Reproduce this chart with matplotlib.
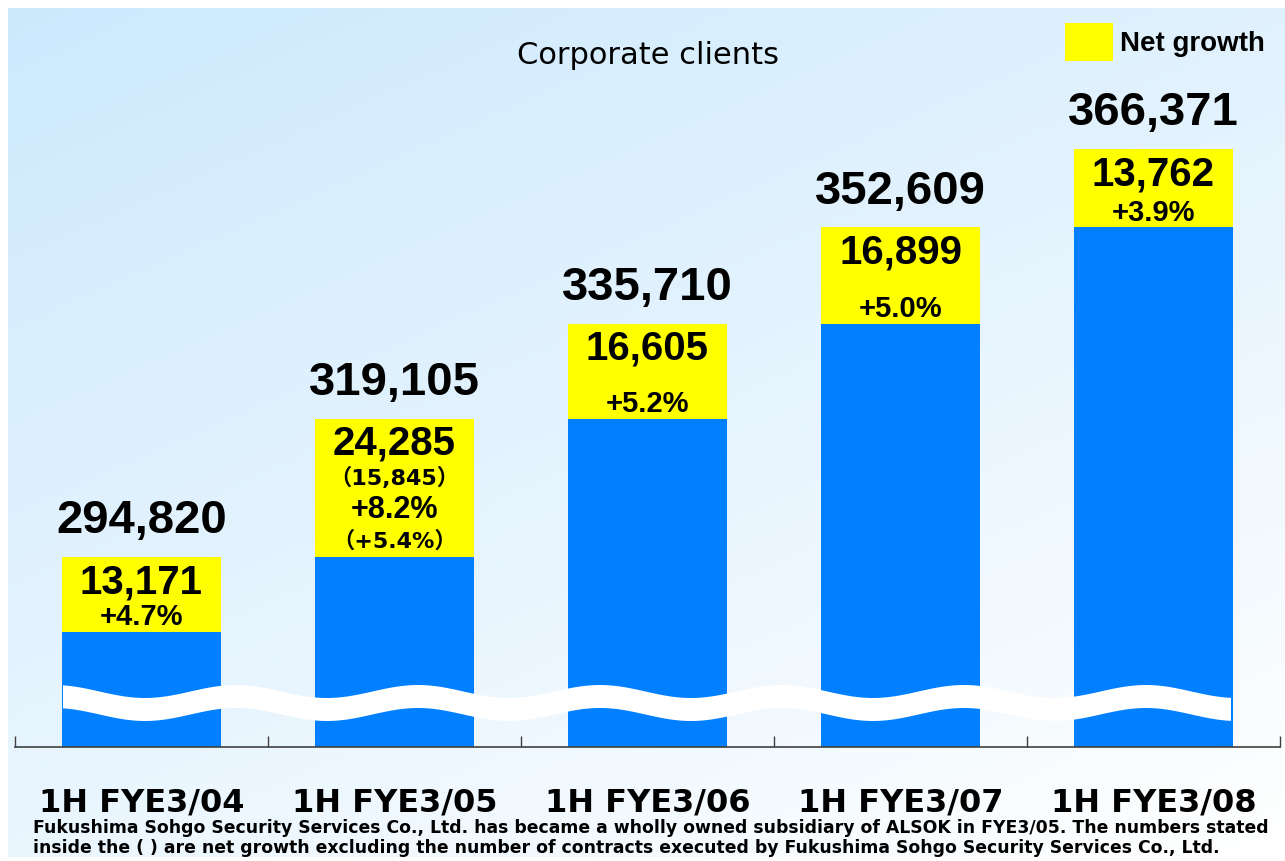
import numpy as np
import matplotlib
matplotlib.use('Agg')
import matplotlib.pyplot as plt
from matplotlib.patches import Patch, Polygon

# data
categories = ['1H FYE3/04', '1H FYE3/05', '1H FYE3/06', '1H FYE3/07', '1H FYE3/08']
totals = [294820, 319105, 335710, 352609, 366371]
net_growth = [13171, 24285, 16605, 16899, 13762]
growth_pct = [4.7, 8.2, 5.2, 5.0, 3.9]
# figures excluding Fukushima Sohgo (only for FYE3/05)
growth_excl = [None, 15845, None, None, None]
pct_excl = [None, 5.4, None, None, None]

previous = [t - g for t, g in zip(totals, net_growth)]

W, H = 1285, 861
BLUE = '#0080ff'
YELLOW = '#ffff00'
FONT = 'Liberation Sans'
WIDE = ['DejaVu Sans', 'Noto Sans CJK JP']

fig = plt.figure(figsize=(W / 100, H / 100), dpi=100)
fig.patch.set_facecolor('white')

# gradient background panel
bg = fig.add_axes([8 / W, (H - 857) / H, (W - 8) / W, (857 - 8) / H])
yy, xx = np.mgrid[0:1:200j, 0:1:300j]
t = 0.6 * yy + 0.4 * xx
c0 = np.array([0.80, 0.914, 0.992])
c1 = np.array([1.0, 1.0, 1.0])
grad = c0[None, None, :] * (1 - t[..., None]) + c1[None, None, :] * t[..., None]
bg.imshow(grad, aspect='auto', extent=[0, 1, 0, 1], origin='upper')
bg.axis('off')

# main axes (broken value axis, floor well above zero)
ax = fig.add_axes([15 / W, (H - 747) / H, 1265 / W, (747 - 8) / H])
ax.patch.set_alpha(0)
y_floor = 261500
ax.set_ylim(y_floor, 391100)
ax.set_xlim(-0.5, 4.5)

x = np.arange(len(categories))
ax.bar(x, [p - y_floor for p in previous], bottom=y_floor, width=0.63, color=BLUE, zorder=2)
ax.bar(x, net_growth, bottom=previous, width=0.63, color=YELLOW, zorder=2)

for i in range(len(categories)):
    ax.annotate(f'{totals[i]:,}', (x[i], totals[i]), xytext=(0, 17), textcoords='offset points',
                ha='center', va='baseline', fontsize=34, fontweight='bold', family=FONT)
    ax.annotate(f'{net_growth[i]:,}', (x[i], totals[i]), xytext=(0, -26), textcoords='offset points',
                ha='center', va='baseline', fontsize=29, fontweight='bold', family=FONT, zorder=3)
    if growth_excl[i] is None:
        ax.annotate(f'+{growth_pct[i]:.1f}%', (x[i], previous[i]), xytext=(0, 5),
                    textcoords='offset points', ha='center', va='baseline',
                    fontsize=21, fontweight='bold', family=FONT, zorder=3)
    else:
        ax.annotate(f'（{growth_excl[i]:,}）', (x[i], totals[i]), xytext=(0, -48),
                    textcoords='offset points', ha='center', va='baseline',
                    fontsize=16, fontweight='bold', family=WIDE, zorder=3)
        ax.annotate(f'+{growth_pct[i]:.1f}%', (x[i], previous[i]), xytext=(0, 28),
                    textcoords='offset points', ha='center', va='baseline',
                    fontsize=22, fontweight='bold', family=FONT, zorder=3)
        ax.annotate(f'（+{pct_excl[i]:.1f}%）', (x[i], previous[i]), xytext=(0, 6.5),
                    textcoords='offset points', ha='center', va='baseline',
                    fontsize=16, fontweight='bold', family=WIDE, zorder=3)

# wavy break mark across the bars (pixel space -> figure fraction)
px = np.linspace(63, 1231, 400)
top = 691.5 - 6.5 * np.cos(2 * np.pi * (px - 54) / 182)
bot = top + 23
verts = np.concatenate([np.column_stack([px, top]), np.column_stack([px[::-1], bot[::-1]])])
verts[:, 0] /= W
verts[:, 1] = 1 - verts[:, 1] / H
fig.patches.append(Polygon(verts, closed=True, facecolor='white', edgecolor='none',
                           transform=fig.transFigure, zorder=5))

# axes styling
for s in ['left', 'right', 'top']:
    ax.spines[s].set_visible(False)
ax.spines['bottom'].set_color('#404040')
ax.spines['bottom'].set_linewidth(1.2)
ax.set_yticks([])
ax.set_xticks(x)
ax.set_xticklabels(categories, fontsize=23, fontweight='bold', family='DejaVu Sans')
ax.tick_params(axis='x', which='major', length=0, pad=29)
ax.set_xticks(np.arange(-0.5, 5, 1), minor=True)
ax.tick_params(axis='x', which='minor', direction='in', length=8, width=1, color='#404040')

fig.text(648 / W, 1 - 64 / H, 'Corporate clients', ha='center', va='baseline',
         fontsize=22, family='DejaVu Sans')

ax.legend(handles=[Patch(facecolor=YELLOW, edgecolor='none', label='Net growth')],
          loc='upper right', bbox_to_anchor=(1265 / W, 1 - 23 / H),
          bbox_transform=fig.transFigure, frameon=False, borderaxespad=0, borderpad=0,
          handlelength=1.75, handleheight=1.7, handletextpad=0.25,
          prop={'family': FONT, 'weight': 'bold', 'size': 20})

fig.text(33 / W, 1 - 833 / H,
         'Fukushima Sohgo Security Services Co., Ltd. has became a wholly owned subsidiary of ALSOK in FYE3/05. The numbers stated',
         ha='left', va='baseline', fontsize=12.4, fontweight='bold', family='DejaVu Sans')
fig.text(33 / W, 1 - 853 / H,
         'inside the ( ) are net growth excluding the number of contracts executed by Fukushima Sohgo Security Services Co., Ltd.',
         ha='left', va='baseline', fontsize=12.4, fontweight='bold', family='DejaVu Sans')

fig.savefig('out.png', dpi=100)
